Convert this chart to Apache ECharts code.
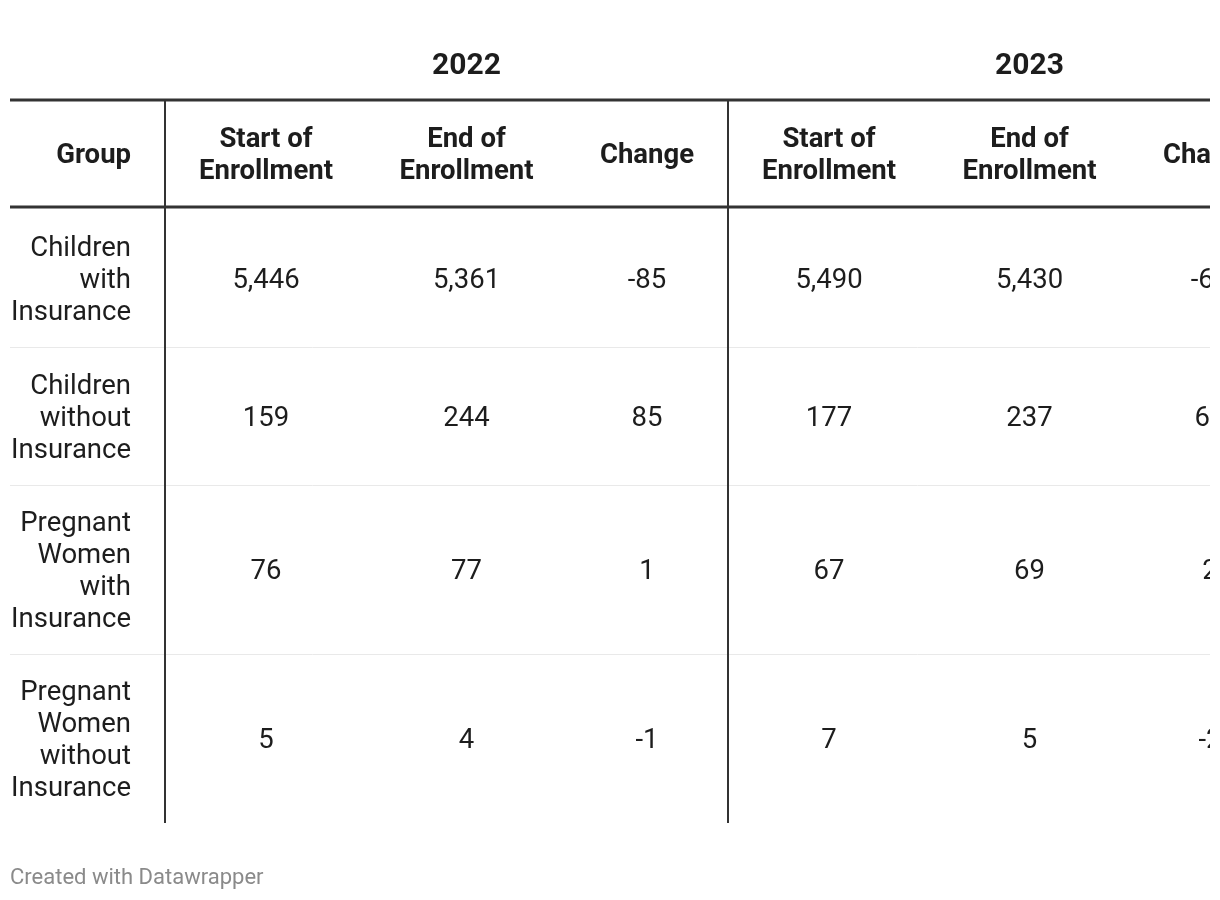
<!DOCTYPE html>
<html>
<head>
<meta charset="utf-8">
<script src="https://cdn.jsdelivr.net/npm/echarts@6/dist/echarts.min.js"></script>
<style>
  html, body { margin: 0; padding: 0; background: #ffffff; }
  #clip { width: 1210px; height: 900px; overflow: hidden; }
  #chart { width: 1220px; height: 900px; }
</style>
</head>
<body>
<div id="clip"><div id="chart"></div></div>
<script>
// ---------------- DATA ----------------
const years = ['2022', '2023'];
const columnHeaders = ['Start of\nEnrollment', 'End of\nEnrollment', 'Change'];
const groupHeader = 'Group';
const groups = [
  'Children\nwith\nInsurance',
  'Children\nwithout\nInsurance',
  'Pregnant\nWomen\nwith\nInsurance',
  'Pregnant\nWomen\nwithout\nInsurance'
];
const start2022 = [5446, 159, 76, 5];
const end2022 = [5361, 244, 77, 4];
const change2022 = [-85, 85, 1, -1];
const start2023 = [5490, 177, 67, 7];
const end2023 = [5430, 237, 69, 5];
const change2023 = [-60, 60, 2, -2];
const footerText = 'Created with Datawrapper';

// ---------------- LAYOUT / STYLE ----------------
const L = {
  tableLeft: 10, tableRight: 1220,
  groupTextRight: 131,
  groupColW: 155, colW: [202, 199, 162],
  yearY: 66, headTop: 100, headBottom: 207, bodyTop: 209,
  textLineH: 32, rowLineH: 31, rowPad: 45,
  textDy: 3,
  footY: 878
};
const S = {
  font: 'Roboto, "Noto Sans", sans-serif',
  text: '#1d1d1d', strong: '#333333', light: '#e9e9e9', foot: '#8a8a8a',
  bodySize: 27.5, headSize: 27.5, yearSize: 30, footSize: 22
};

const valuesByYear = [
  [start2022, end2022, change2022],
  [start2023, end2023, change2023]
];
const fmt = v => v.toLocaleString('en-US');

// column geometry (in px units of the hidden axes)
const colEdges = [];
let cx = L.tableLeft + L.groupColW;
const yearStarts = [];
years.forEach(() => {
  yearStarts.push(cx);
  L.colW.forEach(w => { colEdges.push([cx, cx + w]); cx += w; });
});
const colCenter = i => (colEdges[i][0] + colEdges[i][1]) / 2;

// row geometry
const rowEdges = [];
let ry = L.bodyTop;
groups.forEach(g => {
  const n = g.split('\n').length;
  const h = n * L.rowLineH + L.rowPad;
  rowEdges.push([ry, ry + h]);
  ry += h;
});
const tableBottom = ry;
const rowCenter = r => (rowEdges[r][0] + rowEdges[r][1]) / 2 + L.textDy;
const headCenter = (L.headTop + L.headBottom) / 2 + L.textDy;

// ---------------- DATA FOR SERIES ----------------
const cellData = [];
groups.forEach((g, r) => {
  years.forEach((y, yi) => {
    valuesByYear[yi].forEach((arr, ci) => {
      cellData.push({ value: [yi * 3 + ci, r, arr[r]] });
    });
  });
});
const groupData = groups.map((g, r) => ({ value: [0, r], name: g }));
const yearData = years.map((y, yi) => ({ value: [yi, 0], name: y }));
const headerData = [];
years.forEach((y, yi) => columnHeaders.forEach((h, ci) => headerData.push({ value: [yi * 3 + ci, 0], name: h })));

function txt(api, x, y, text, opt) {
  const p = api.coord([x, y]);
  return {
    type: 'text',
    x: p[0], y: p[1],
    style: Object.assign({
      text: text,
      fill: S.text,
      fontFamily: S.font,
      fontSize: S.bodySize,
      fontWeight: 'normal',
      align: 'center', textAlign: 'center',
      verticalAlign: 'middle', textVerticalAlign: 'middle',
      lineHeight: L.textLineH
    }, opt || {})
  };
}
function line(api, x1, y1, x2, y2, stroke, w) {
  const a = api.coord([x1, y1]), b = api.coord([x2, y2]);
  return { type: 'line', shape: { x1: a[0], y1: a[1], x2: b[0], y2: b[1] }, style: { stroke: stroke, lineWidth: w } };
}

const chart = echarts.init(document.getElementById('chart'), null, { renderer: 'canvas' });
chart.setOption({
  backgroundColor: '#ffffff',
  animation: false,
  grid: { left: 0, top: 0, width: 1220, height: 900, show: false },
  xAxis: { type: 'value', min: 0, max: 1220, show: false },
  yAxis: { type: 'value', min: 0, max: 900, inverse: true, show: false },
  series: [
    { // rules
      type: 'custom', coordinateSystem: 'cartesian2d', silent: true,
      data: [[0, 0]],
      renderItem: function (params, api) {
        const children = [];
        children.push(line(api, L.tableLeft, L.headTop, L.tableRight, L.headTop, S.strong, 3));
        children.push(line(api, L.tableLeft, L.headBottom, L.tableRight, L.headBottom, S.strong, 3));
        rowEdges.slice(0, -1).forEach(e => children.push(line(api, L.tableLeft, e[1] + 0.5, L.tableRight, e[1] + 0.5, S.light, 1)));
        children.push(line(api, L.tableLeft + L.groupColW, L.headTop, L.tableLeft + L.groupColW, tableBottom, S.strong, 2));
        yearStarts.slice(1).forEach(x => children.push(line(api, x, L.headTop, x, tableBottom, S.strong, 2)));
        return { type: 'group', children: children };
      }
    },
    { // year headers
      type: 'custom', coordinateSystem: 'cartesian2d', silent: true,
      data: yearData,
      renderItem: function (params, api) {
        const yi = api.value(0);
        return txt(api, colCenter(yi * 3 + 1), L.yearY, years[yi], { fontWeight: 'bold', fontSize: S.yearSize });
      }
    },
    { // column headers
      type: 'custom', coordinateSystem: 'cartesian2d', silent: true,
      data: headerData,
      renderItem: function (params, api) {
        const c = api.value(0);
        const children = [txt(api, colCenter(c), headCenter, columnHeaders[c % 3], { fontWeight: 'bold', fontSize: S.headSize })];
        if (c === 0) {
          children.push(txt(api, L.groupTextRight, headCenter, groupHeader, { fontWeight: 'bold', fontSize: S.headSize, align: 'right', textAlign: 'right' }));
        }
        return { type: 'group', children: children };
      }
    },
    { // group labels
      type: 'custom', coordinateSystem: 'cartesian2d', silent: true,
      data: groupData,
      renderItem: function (params, api) {
        const r = api.value(1);
        return txt(api, L.groupTextRight, rowCenter(r), groups[r], { align: 'right', textAlign: 'right' });
      }
    },
    { // cells
      type: 'custom', coordinateSystem: 'cartesian2d', silent: true,
      data: cellData,
      renderItem: function (params, api) {
        const c = api.value(0), r = api.value(1), v = api.value(2);
        return txt(api, colCenter(c), rowCenter(r), fmt(v));
      }
    },
    { // footer
      type: 'custom', coordinateSystem: 'cartesian2d', silent: true,
      data: [[0, 0]],
      renderItem: function (params, api) {
        return txt(api, L.tableLeft, L.footY, footerText, { fill: S.foot, fontSize: S.footSize, align: 'left', textAlign: 'left' });
      }
    }
  ]
});
</script>
</body>
</html>
